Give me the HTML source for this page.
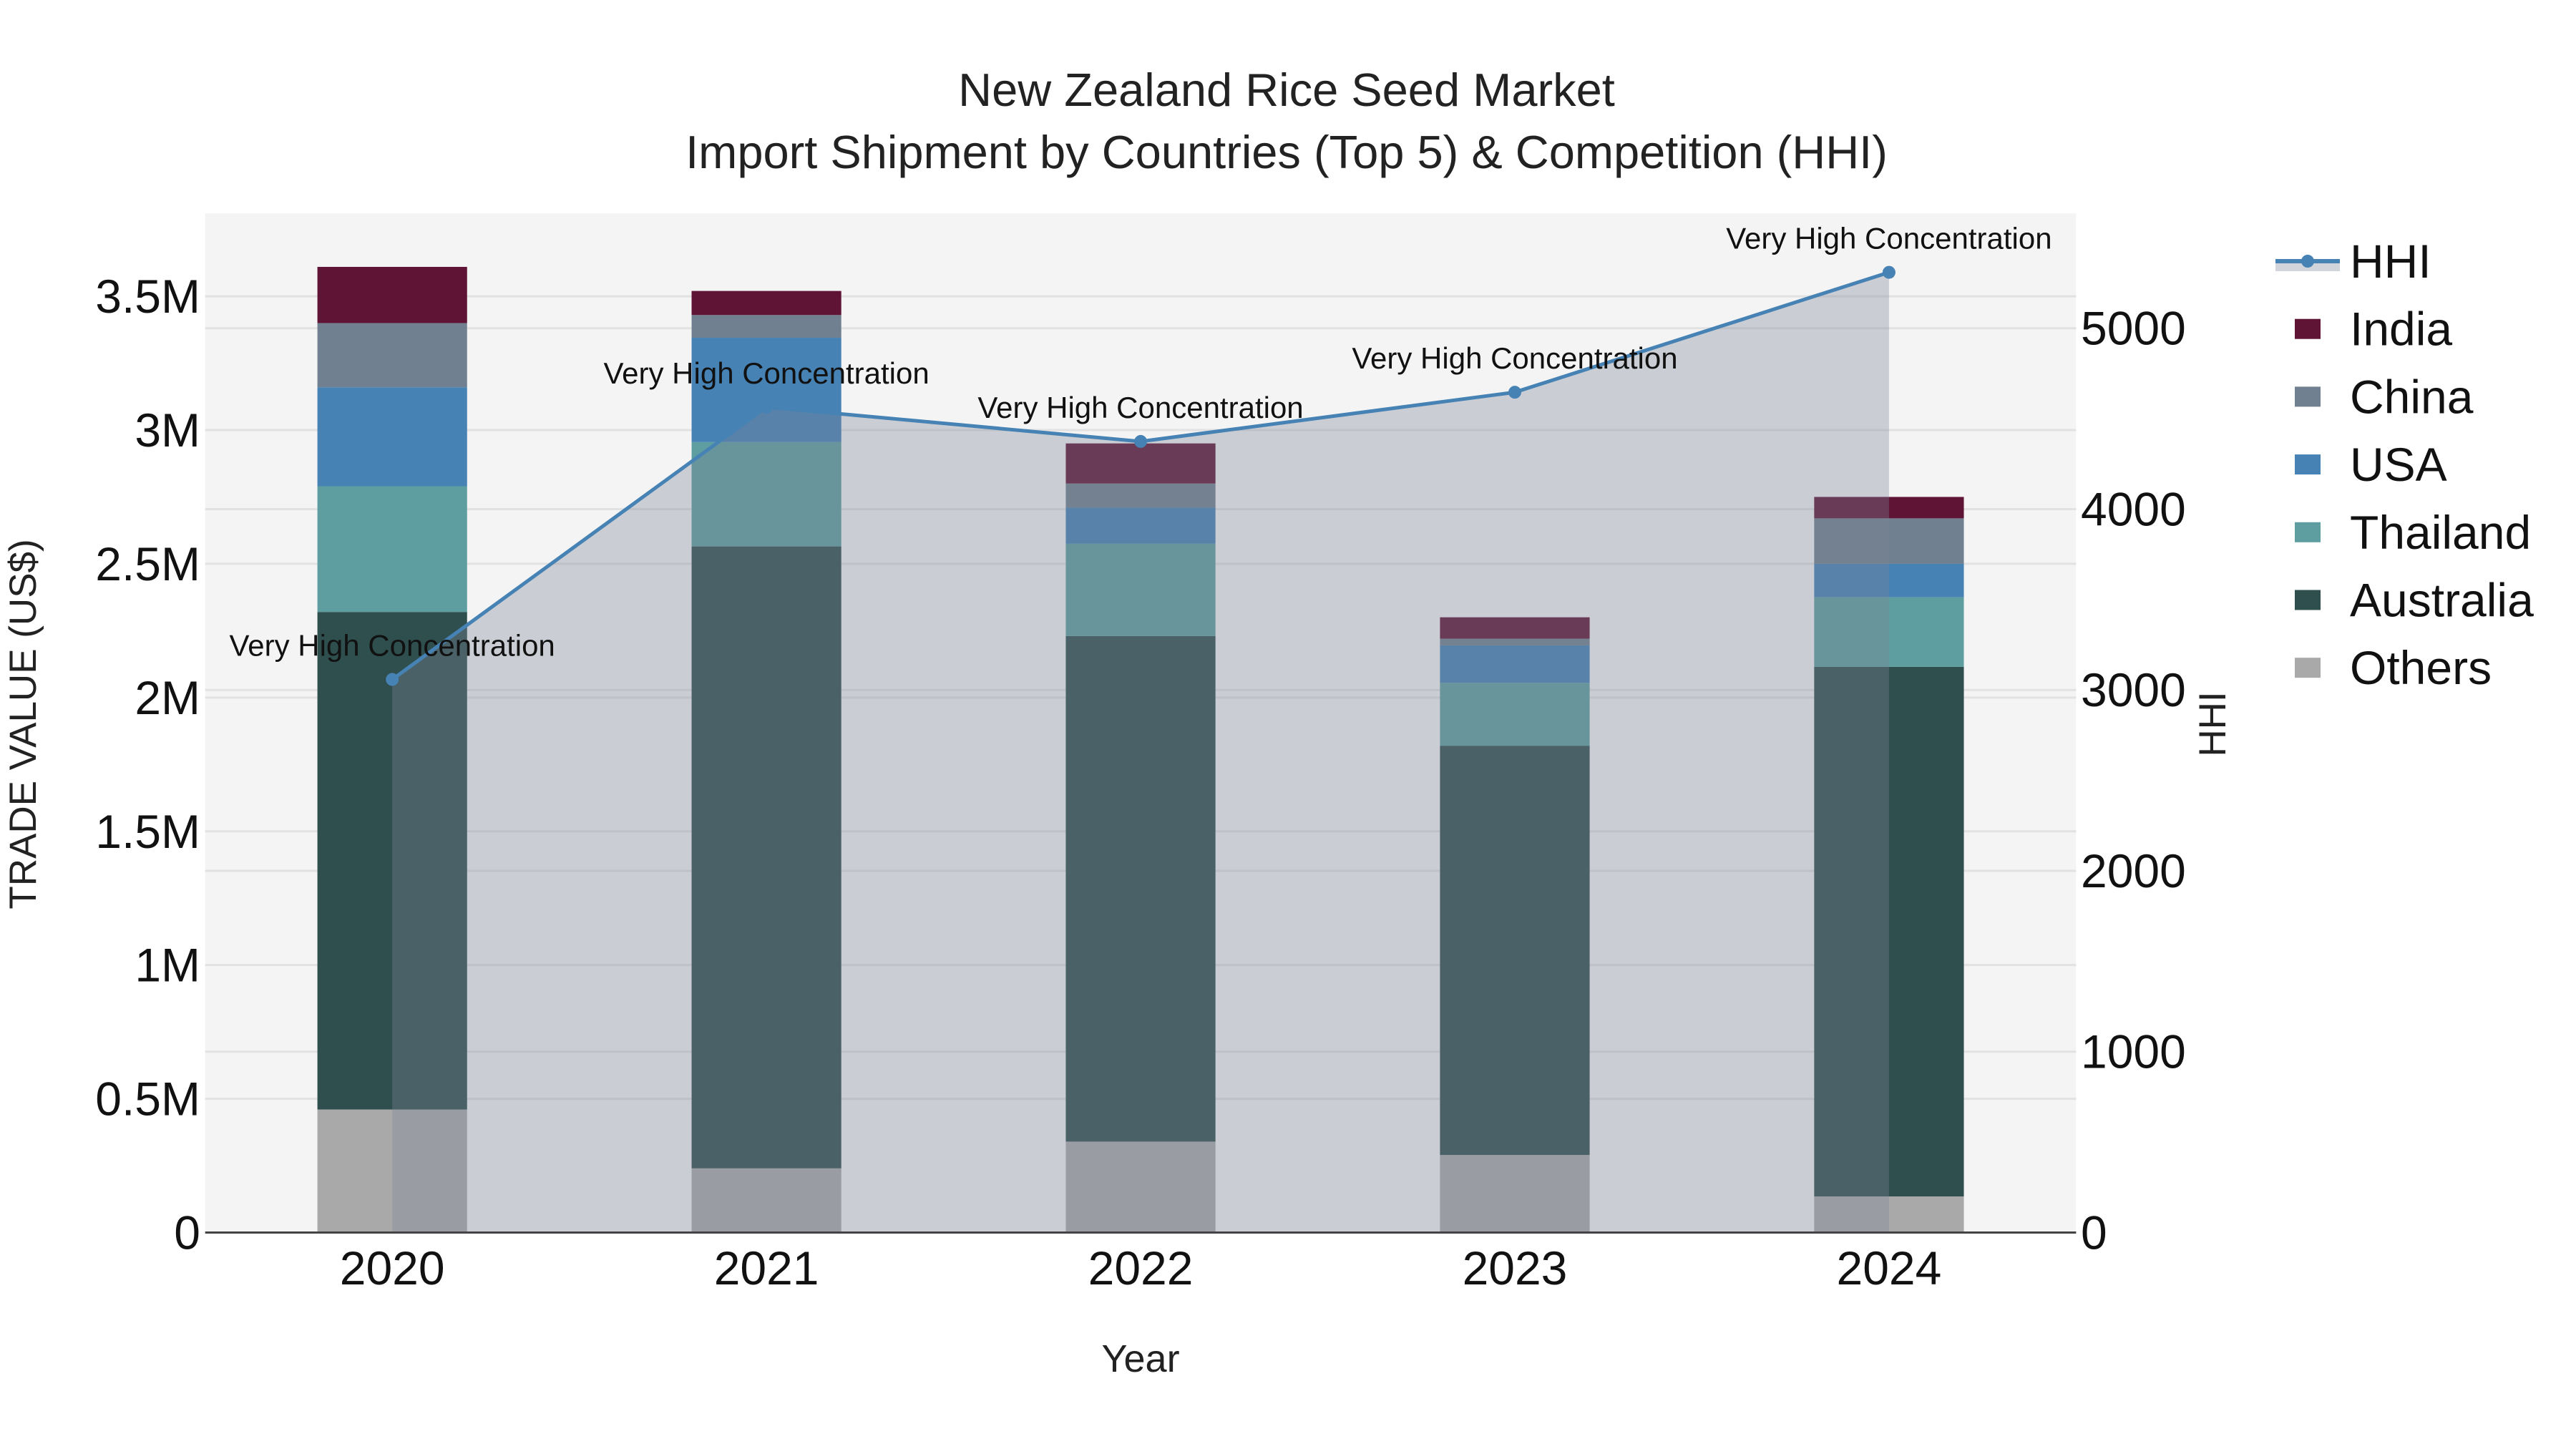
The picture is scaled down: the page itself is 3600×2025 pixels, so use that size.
<!DOCTYPE html>
<html><head><meta charset="utf-8"><style>
html,body{margin:0;padding:0;background:#fff;}
svg{display:block;font-family:"Liberation Sans",Arial,sans-serif;}
</style></head><body>
<svg id="chart" width="3600" height="2025" viewBox="0 0 3600 2025" xmlns="http://www.w3.org/2000/svg">
<rect x="0" y="0" width="3600" height="2025" fill="#ffffff"/>
<text x="1798" y="148" font-size="65" text-anchor="middle" fill="#222">New Zealand Rice Seed Market</text>
<text x="1798" y="235" font-size="65" text-anchor="middle" fill="#222">Import Shipment by Countries (Top 5) &amp; Competition (HHI)</text>
<rect x="286.7" y="298.2" width="2614.7" height="1424.3" fill="#f4f4f4"/>
<g id="grid"></g>
<g id="bars"></g>
<g id="hhi"></g>
<line x1="286.7" y1="1722.5" x2="2901.4" y2="1722.5" stroke="#444" stroke-width="3"/>
<g id="ticks"></g>
<text x="1594" y="1917" font-size="54" text-anchor="middle" fill="#222">Year</text>
<text transform="translate(50,1012) rotate(-90)" font-size="53" text-anchor="middle" fill="#222">TRADE VALUE (US$)</text>
<text transform="translate(3110,1012) rotate(-90)" font-size="53" text-anchor="middle" fill="#222">HHI</text>
<g id="legend"></g>
</svg>
<script>
const years = ["2020","2021","2022","2023","2024"];
const others = [0.46, 0.24, 0.34, 0.29, 0.135];
const australia = [1.86, 2.325, 1.89, 1.53, 1.98];
const thailand = [0.47, 0.39, 0.345, 0.235, 0.26];
const usa = [0.37, 0.39, 0.135, 0.14, 0.125];
const china = [0.24, 0.085, 0.09, 0.025, 0.17];
const india = [0.21, 0.09, 0.15, 0.08, 0.08];
const hhi = [3058, 4564, 4374, 4646, 5309];
const hhiLabels = ["Very High Concentration","Very High Concentration","Very High Concentration","Very High Concentration","Very High Concentration"];
const leftTicks = [0, 0.5, 1, 1.5, 2, 2.5, 3, 3.5];
const leftTickLabels = ["0","0.5M","1M","1.5M","2M","2.5M","3M","3.5M"];
const rightTicks = [0, 1000, 2000, 3000, 4000, 5000];

const NS = "http://www.w3.org/2000/svg";
const X0 = 286.7, X1 = 2901.4, Y0 = 1722.5, YT = 298.2;
const LMAX = 3.81, RMAX = 5635;
const band = (X1 - X0) / years.length;
function xc(i){ return X0 + band*(i+0.5); }
function yL(v){ return Y0 - (Y0-YT)*v/LMAX; }
function yR(v){ return Y0 - (Y0-YT)*v/RMAX; }
function mk(tag, attrs, parent){ const e=document.createElementNS(NS,tag); for(const k in attrs) e.setAttribute(k,attrs[k]); parent.appendChild(e); return e; }

const grid = document.getElementById("grid");
leftTicks.forEach(t => { if(t===0) return;
  const l = mk("line",{x1:X0,x2:X1,y1:yL(t),y2:yL(t),stroke:"#e2e2e2","stroke-width":3},grid);
  
  
});
rightTicks.forEach(t => { if(t===0) return;
  const l = mk("line",{x1:X0,x2:X1,y1:yR(t),y2:yR(t),stroke:"#e2e2e2","stroke-width":3},grid);
  
  
});

const series = [
  {name:"Others", vals:others, color:"#a9a9a9"},
  {name:"Australia", vals:australia, color:"#2f4f4f"},
  {name:"Thailand", vals:thailand, color:"#5f9ea0"},
  {name:"USA", vals:usa, color:"#4682b4"},
  {name:"China", vals:china, color:"#708090"},
  {name:"India", vals:india, color:"#601435"}
];
const bars = document.getElementById("bars");
const bw = band*0.4;
years.forEach((y,i) => {
  let base = 0;
  series.forEach(s => {
    const v = s.vals[i];
    const r = mk("rect",{x:xc(i)-bw/2, y:yL(base+v), width:bw, height:yL(base)-yL(base+v), fill:s.color},bars);
    
    
    base += v;
  });
});

const hg = document.getElementById("hhi");
let d = "M"+xc(0)+","+Y0;
hhi.forEach((v,i)=>{ d += " L"+xc(i)+","+yR(v); });
d += " L"+xc(hhi.length-1)+","+Y0+" Z";
const area = mk("path",{d:d, fill:"rgba(122,132,150,0.35)"},hg);


const pts = hhi.map((v,i)=>xc(i)+","+yR(v)).join(" ");
const line = mk("polyline",{points:pts, fill:"none", stroke:"#4682b4","stroke-width":5},hg);


hhi.forEach((v,i)=>{
  const c = mk("circle",{cx:xc(i), cy:yR(v), r:9, fill:"#4682b4"},hg);
  
  
  const t = mk("text",{x:xc(i), y:yR(v)-33, "font-size":42, "text-anchor":"middle", fill:"#111"},hg);
  t.textContent = hhiLabels[i];
  
  
});

const tk = document.getElementById("ticks");
leftTicks.forEach((t,i)=>{
  const e = mk("text",{x:280, y:yL(t)+23, "font-size":66, "text-anchor":"end", fill:"#111"},tk);
  e.textContent = leftTickLabels[i];
  
  
});
rightTicks.forEach(t=>{
  const e = mk("text",{x:2908, y:yR(t)+23, "font-size":66, "text-anchor":"start", fill:"#111"},tk);
  e.textContent = String(t);
  
  
});
years.forEach((y,i)=>{
  const e = mk("text",{x:xc(i), y:1795, "font-size":66, "text-anchor":"middle", fill:"#111"},tk);
  e.textContent = y;
  
  
});

const lg = document.getElementById("legend");
const entries = [{name:"HHI"}].concat(series.slice().reverse());
entries.forEach((s,k)=>{
  const cy = 365 + k*94.7;
  const g = mk("g",{},lg);
  
  
  if(s.name==="HHI"){
    mk("rect",{x:3180,y:cy,width:90,height:14,fill:"rgba(122,132,150,0.35)"},g);
    mk("line",{x1:3180,x2:3270,y1:cy,y2:cy,stroke:"#4682b4","stroke-width":6},g);
    mk("circle",{cx:3225,cy:cy,r:9,fill:"#4682b4"},g);
  } else {
    mk("rect",{x:3207,y:cy-14,width:36,height:28,fill:s.color},g);
  }
  const t = mk("text",{x:3284, y:cy+23, "font-size":66, fill:"#111"},g);
  t.textContent = s.name;
});
</script>
</body></html>
